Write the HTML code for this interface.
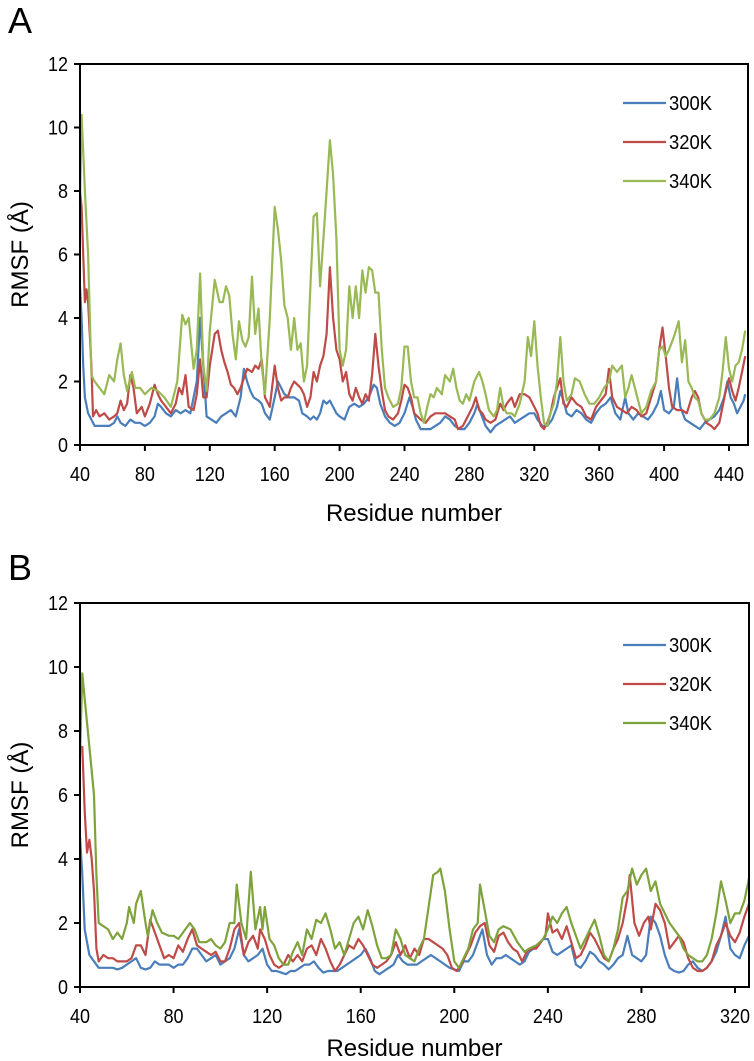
<!DOCTYPE html>
<html><head><meta charset="utf-8"><style>
body{margin:0;background:#fff;}
svg{display:block;}
.tk{font-family:"Liberation Sans Narrow","Liberation Sans",sans-serif;font-size:20px;fill:#000;}
.tt{font-family:"Liberation Sans",sans-serif;font-size:24px;fill:#000;}
</style></head><body>
<svg id="fig" width="754" height="1061" viewBox="0 0 754 1061"></svg>
<script>
const seriesNames=["300K","320K","340K"];
const yTicks=[0,2,4,6,8,10,12];
const xTicksA=[40,80,120,160,200,240,280,320,360,400,440];
const xTicksB=[40,80,120,160,200,240,280,320];

const aBlueX=[40,41,42,43,45,47,49,52,55,58,61,63,65,68,71,74,77,80,83,86,88,90,93,96,99,102,105,108,110,112,114,116,118,121,124,127,130,133,136,139,141,143,145,147,150,152,154,157,160,162,164,166,169,172,175,177,180,182,184,186,188,190,192,194,196,198,200,203,206,209,212,215,218,221,223,225,228,231,234,237,240,243,245,247,250,253,256,259,262,265,268,271,274,277,280,283,285,287,290,293,296,299,302,305,308,311,314,317,320,322,325,328,331,334,336,338,340,343,346,349,352,355,358,361,364,367,370,373,376,378,381,384,387,390,393,396,398,400,403,406,408,410,413,416,419,422,425,428,431,434,437,439,441,443,445,447,449,450];
const aBlueY=[5.0,4.0,2.5,1.5,1.0,0.8,0.6,0.6,0.6,0.6,0.7,0.9,0.7,0.6,0.8,0.7,0.7,0.6,0.7,0.9,1.3,1.2,1.0,0.9,1.1,1.0,1.1,1.0,1.5,2.0,4.0,2.5,0.9,0.8,0.7,0.9,1.0,1.1,0.9,1.5,2.4,2.0,1.7,1.5,1.4,1.3,1.0,0.8,1.5,2.0,1.8,1.6,1.5,1.5,1.4,1.0,0.9,0.8,0.9,0.8,1.0,1.4,1.3,1.4,1.2,1.0,0.9,0.8,1.2,1.3,1.2,1.3,1.5,1.9,1.8,1.3,0.9,0.7,0.6,0.7,1.0,1.5,1.2,0.8,0.5,0.5,0.5,0.6,0.7,0.9,0.8,0.6,0.5,0.5,0.7,1.0,1.3,1.0,0.6,0.4,0.6,0.7,0.8,0.9,0.7,0.8,0.9,1.0,1.0,0.8,0.6,0.6,0.8,1.2,1.7,1.4,1.0,0.9,1.1,1.0,0.8,0.7,1.0,1.2,1.3,1.5,1.0,0.8,1.5,1.0,0.8,1.0,0.9,0.8,1.0,1.3,1.7,1.1,1.0,1.2,2.1,1.2,0.8,0.7,0.6,0.5,0.7,0.8,0.9,1.1,1.5,2.0,1.5,1.3,1.0,1.2,1.4,1.6];

const aRedX=[40,41,42,43,44,45,47,48,50,52,55,58,61,63,65,67,69,71,73,75,78,80,83,86,88,90,93,96,99,101,103,105,107,110,112,114,116,118,120,123,125,127,129,131,133,135,137,139,141,143,146,148,150,152,154,157,160,162,164,166,168,170,172,174,176,178,180,182,184,186,188,190,192,194,196,198,200,202,204,206,208,210,212,214,216,218,220,222,224,226,228,230,233,236,238,240,242,244,246,248,250,253,256,259,262,265,268,271,273,276,279,282,284,286,288,290,293,296,299,301,303,306,308,311,314,317,320,322,324,326,328,330,332,334,336,338,340,343,346,349,352,355,358,361,364,366,368,371,374,377,380,383,386,389,392,395,397,399,401,403,405,408,411,414,417,419,421,423,426,429,431,434,436,438,440,442,444,446,448,450];
const aRedY=[8.0,7.5,6.0,4.5,4.9,4.5,2.5,0.9,1.1,0.9,1.0,0.8,0.9,1.0,1.4,1.1,1.3,2.2,1.8,1.0,1.2,0.9,1.3,1.9,1.6,1.4,1.2,1.0,1.3,1.8,1.6,2.2,1.2,1.1,1.6,2.7,1.5,1.5,2.5,3.5,3.6,3.0,2.6,2.3,1.9,1.8,1.6,1.8,2.1,2.4,2.3,2.5,2.4,2.7,1.5,1.2,2.5,1.8,1.4,1.5,1.5,1.8,2.0,1.9,1.8,1.6,1.2,1.5,2.3,2.0,2.5,2.8,3.5,5.6,4.0,3.0,2.7,2.0,2.3,1.6,1.4,1.8,1.5,1.3,1.6,1.4,2.2,3.5,2.5,1.7,1.1,0.9,0.8,1.0,1.4,1.9,1.8,1.5,1.0,0.9,0.8,0.7,0.9,1.0,1.0,1.0,0.9,0.8,0.5,0.6,0.9,1.2,1.5,1.1,1.0,0.8,0.7,0.8,1.3,1.1,1.3,1.5,1.2,1.6,1.6,1.5,1.2,1.0,0.6,0.5,0.7,1.0,1.5,1.8,2.1,1.3,1.2,1.5,1.3,1.2,0.9,0.8,1.2,1.4,1.6,2.4,1.5,1.2,1.1,1.0,1.2,1.1,0.9,1.0,1.5,2.0,3.0,3.7,2.8,1.8,1.2,1.1,1.1,1.0,1.5,1.7,1.5,1.0,0.7,0.6,0.5,0.7,1.2,1.7,2.1,1.7,1.4,1.8,2.3,2.8];

const aGreenX=[40,41,43,45,47,49,52,55,58,61,63,65,67,69,72,74,77,80,84,88,92,96,100,103,105,107,110,112,114,116,118,120,123,126,128,130,132,134,136,138,140,142,144,146,148,150,152,154,157,160,162,164,166,168,170,172,174,176,178,180,182,184,186,188,190,192,194,196,198,200,202,204,206,208,210,212,214,216,218,220,222,224,226,228,230,233,236,238,240,242,244,246,248,250,252,254,256,258,260,263,265,268,270,272,274,276,278,280,283,286,288,290,292,295,297,299,301,303,306,308,311,314,316,318,320,322,324,326,328,330,332,334,336,338,340,343,345,348,351,354,357,360,363,366,368,371,374,376,378,380,383,386,389,392,395,397,399,401,403,406,409,411,413,415,417,419,421,423,425,428,431,434,436,438,440,442,444,446,448,450];
const aGreenY=[7.6,10.4,8.0,6.0,2.2,2.0,1.8,1.6,2.2,2.0,2.7,3.2,2.2,1.7,2.3,1.8,1.8,1.6,1.8,1.7,1.5,1.2,2.0,4.1,3.8,4.0,2.4,3.0,5.4,2.5,1.7,3.6,5.2,4.5,4.5,5.0,4.7,3.5,2.7,3.9,3.3,3.1,3.4,5.3,3.5,4.3,2.5,1.6,4.0,7.5,6.8,5.8,4.4,4.0,3.0,4.0,3.0,3.2,2.0,2.5,5.0,7.2,7.3,5.0,6.5,8.0,9.6,8.5,6.5,3.0,2.5,3.0,5.0,4.0,5.0,4.0,5.5,4.8,5.6,5.5,4.8,4.8,3.0,1.8,1.5,1.2,1.3,1.8,3.1,3.1,2.0,1.5,1.5,1.0,0.7,1.2,1.6,1.5,1.8,1.6,2.2,2.0,2.4,1.8,1.4,1.3,1.6,1.4,2.0,2.3,2.0,1.6,1.1,0.9,1.1,1.8,1.2,1.0,1.0,0.9,1.3,2.0,3.4,2.8,3.9,2.5,1.5,0.7,0.6,1.0,1.3,2.0,3.4,2.0,1.4,1.6,2.1,2.0,1.6,1.3,1.3,1.5,1.8,2.0,2.5,2.3,2.5,1.5,1.8,2.2,1.6,1.0,1.2,1.7,2.0,3.0,3.1,2.8,3.0,3.4,3.9,2.6,3.3,2.0,1.8,1.5,1.4,1.0,0.8,0.8,1.0,1.5,2.3,3.4,2.4,2.0,2.5,2.6,3.0,3.6];

const bBlueX=[40,41,42,44,46,48,50,52,54,56,58,60,62,64,66,68,70,72,74,76,78,80,82,84,86,88,90,92,94,96,98,100,102,104,106,108,110,112,114,116,118,120,122,124,126,128,130,132,134,136,138,140,142,144,146,148,150,152,154,156,158,160,162,164,166,168,170,172,174,176,178,180,182,184,186,188,190,192,194,196,198,200,202,204,206,208,210,212,214,216,218,220,222,224,226,228,230,232,234,236,238,240,242,244,246,248,250,252,254,256,258,260,262,264,266,268,270,272,274,276,278,280,282,284,286,288,290,292,294,296,298,300,302,304,306,308,310,312,314,316,318,320,322,324,326];
const bBlueY=[4.7,3.5,1.8,1.0,0.8,0.6,0.6,0.6,0.6,0.55,0.6,0.7,0.8,0.9,0.6,0.55,0.6,0.8,0.7,0.7,0.7,0.6,0.7,0.7,0.9,1.2,1.2,1.0,0.8,0.9,1.0,0.7,0.8,0.9,1.2,1.8,1.0,0.8,0.9,1.0,1.2,0.7,0.5,0.5,0.45,0.4,0.5,0.5,0.6,0.7,0.7,0.8,0.6,0.45,0.5,0.5,0.5,0.6,0.7,0.8,0.9,1.0,1.2,0.9,0.5,0.4,0.5,0.6,0.7,1.0,0.8,0.7,0.7,0.7,0.8,0.9,1.0,0.9,0.8,0.7,0.6,0.55,0.5,0.8,0.8,1.0,1.4,1.8,1.0,0.7,0.9,0.9,1.0,0.9,0.8,0.7,0.8,1.1,1.2,1.3,1.5,1.5,1.1,1.0,1.1,1.2,1.3,0.7,0.6,0.8,1.1,1.0,0.8,0.7,0.55,0.7,0.9,1.0,1.6,1.0,0.9,0.8,1.0,2.2,2.0,1.6,1.0,0.6,0.5,0.45,0.5,0.7,0.8,0.6,0.5,0.6,0.8,1.1,1.6,2.2,1.2,1.0,0.9,1.3,1.6];

const bRedX=[40,41,42,43,44,45,46,47,48,50,52,54,56,58,60,62,64,66,68,70,72,74,76,78,80,82,84,86,88,90,92,94,96,98,100,102,104,106,108,110,112,114,116,117,119,121,123,125,127,129,131,133,135,137,139,141,143,145,147,149,151,153,155,157,159,161,163,165,167,169,171,173,175,177,179,181,183,185,187,189,191,193,195,197,199,201,203,205,207,209,211,213,215,217,219,221,223,225,227,229,231,233,235,237,239,240,242,244,246,248,250,252,254,256,258,260,262,264,266,268,270,272,274,275,277,279,281,283,284,286,288,290,292,294,296,298,300,302,304,306,308,310,312,314,316,318,320,322,324,326];
const bRedY=[7.5,7.5,5.5,4.2,4.6,4.0,3.0,1.2,0.8,1.0,0.9,0.9,0.8,0.8,0.8,0.9,1.3,1.3,1.0,2.1,1.7,1.3,0.9,1.0,0.9,1.3,1.1,1.5,1.8,1.3,1.2,1.1,1.0,1.1,0.8,0.8,1.2,1.8,2.0,1.0,1.4,1.6,1.2,1.8,1.5,1.0,0.7,0.6,0.7,1.0,0.8,1.0,0.8,1.2,1.3,1.0,1.5,1.2,0.8,0.5,0.7,1.0,1.3,1.2,1.5,1.3,1.0,0.7,0.6,0.7,0.8,1.0,1.4,1.0,1.3,0.9,1.2,1.0,1.5,1.5,1.4,1.3,1.2,1.0,0.6,0.5,0.7,1.0,1.3,1.7,1.9,2.0,1.3,1.1,1.6,1.7,1.4,1.2,1.1,0.8,1.1,1.2,1.2,1.4,1.6,2.3,1.7,1.8,1.5,1.9,1.4,0.9,1.0,1.3,1.7,1.5,1.2,0.9,0.8,1.2,1.5,2.0,2.8,3.5,2.0,1.6,2.0,2.2,1.8,2.6,2.4,2.0,1.2,1.4,1.6,1.4,0.9,0.6,0.5,0.5,0.6,0.8,1.3,1.6,2.0,1.6,1.4,1.7,2.2,2.6];

const bGreenX=[40,41,42,44,46,47,48,50,52,54,56,58,60,61,63,64,66,68,69,71,73,75,78,80,82,85,87,89,91,94,96,98,100,102,104,106,107,109,111,113,115,117,118,119,121,123,125,127,129,131,133,135,137,139,141,143,145,147,149,151,153,155,157,159,161,163,165,167,169,171,173,175,177,179,181,183,185,187,189,191,193,194,196,198,200,202,204,206,208,210,211,213,215,217,219,221,224,227,230,232,235,238,240,242,244,246,248,250,252,254,256,258,260,262,264,266,268,270,272,274,276,278,280,282,284,286,288,290,292,294,296,298,300,302,304,306,308,310,312,314,316,318,320,322,324,326];
const bGreenY=[7.2,9.8,9.0,7.5,6.0,3.5,2.0,1.9,1.8,1.5,1.7,1.5,2.0,2.5,2.0,2.6,3.0,2.0,1.6,2.4,2.0,1.7,1.6,1.6,1.5,1.8,2.0,1.8,1.4,1.4,1.5,1.3,1.2,1.4,2.0,2.0,3.2,2.0,1.5,3.6,1.8,2.5,1.8,2.5,1.5,1.3,0.9,0.7,0.7,1.1,1.4,1.0,1.8,1.5,2.1,2.0,2.3,1.8,1.2,1.4,1.0,1.5,2.0,2.2,1.8,2.4,1.9,1.3,0.9,0.9,1.0,1.8,1.5,1.0,0.9,0.8,1.2,1.5,2.5,3.5,3.6,3.7,3.0,1.8,0.8,0.6,0.9,1.2,1.8,2.0,3.2,2.4,1.6,1.4,1.8,1.9,1.8,1.4,1.1,1.2,1.3,1.5,1.8,2.2,2.0,2.3,2.5,2.0,1.6,1.2,1.5,1.8,2.1,1.6,1.0,0.8,1.2,1.8,2.8,3.0,3.7,3.2,3.5,3.7,3.0,3.3,2.6,2.3,2.0,1.8,1.6,1.2,1.0,0.9,0.8,0.8,1.0,1.5,2.3,3.3,2.7,2.0,2.3,2.3,2.7,3.4];

const NS="http://www.w3.org/2000/svg";
const svg=document.getElementById('fig');
function mk(tag,attrs,parent){const e=document.createElementNS(NS,tag);for(const k in attrs)e.setAttribute(k,attrs[k]);(parent||svg).appendChild(e);return e;}

function panel(cfg){
  const g=mk('g',{});
  
  
  const xs=v=>cfg.x0+(v-cfg.xmin)*(cfg.x1px-cfg.x0)/(cfg.xTickMax-cfg.xmin);
  const ys=v=>cfg.y0-(v-0)*(cfg.y0-cfg.ytop)/12;
  const right=cfg.right;
  const lbl=mk('text',{x:8,y:cfg.letterY,'font-family':'Liberation Sans, sans-serif','font-size':'36',fill:'#000'},g);
  lbl.textContent=cfg.letter;
  
  
  cfg.series.forEach((s,i)=>{
    let d='';
    s.x.forEach((xv,j)=>{d+=(j?'L':'M')+xs(xv).toFixed(1)+','+ys(s.y[j]).toFixed(1);});
    const p=mk('path',{d:d,fill:'none',stroke:s.color,'stroke-width':'2.2','stroke-linejoin':'round'},g);
    
    
  });
  const fr=mk('rect',{x:cfg.x0,y:cfg.ytop,width:right-cfg.x0,height:cfg.y0-cfg.ytop,fill:'none',stroke:'#000','stroke-width':'2'},g);
  
  
  yTicks.forEach(t=>{
    const y=ys(t);
    const l=mk('line',{x1:cfg.x0-6,x2:cfg.x0,y1:y,y2:y,stroke:'#000','stroke-width':'2'},g);
    
    
    const tx=mk('text',{x:cfg.x0-12,y:y+7,'text-anchor':'end',class:'tk',textLength:(String(t).length*10),lengthAdjust:'spacingAndGlyphs'},g);
    tx.textContent=t;
    
    
  });
  cfg.xTicks.forEach(t=>{
    const x=xs(t);
    const l=mk('line',{x1:x,x2:x,y1:cfg.y0,y2:cfg.y0+6,stroke:'#000','stroke-width':'2'},g);
    
    
    const tx=mk('text',{x:x,y:cfg.y0+36,'text-anchor':'middle',class:'tk',textLength:(String(t).length*10),lengthAdjust:'spacingAndGlyphs'},g);
    tx.textContent=t;
    
    
  });
  const xt=mk('text',{x:(cfg.x0+right)/2,y:cfg.xTitleY,'text-anchor':'middle',class:'tt'},g);
  xt.textContent='Residue number';
  
  
  const cy=(cfg.ytop+cfg.y0)/2;
  const yt=mk('text',{x:0,y:0,'text-anchor':'middle',class:'tt',transform:'translate(28,'+cy+') rotate(-90)'},g);
  yt.textContent='RMSF (Å)';
  
  
  cfg.series.forEach((s,i)=>{
    const ly=cfg.legY+i*39;
    const lg=mk('g',{},g);
    
    
    mk('line',{x1:623,x2:666,y1:ly,y2:ly,stroke:s.color,'stroke-width':'2.2'},lg);
    const t=mk('text',{x:669,y:ly+7,class:'tk',textLength:43,lengthAdjust:'spacingAndGlyphs'},lg);
    t.textContent=seriesNames[i];
  });
}
panel({name:'panel-a',letter:'A',letterY:33,x0:80,ytop:64,y0:445,right:748,xmin:40,xTickMax:440,x1px:729,xTicks:xTicksA,xTitleY:521,legY:103,
  series:[{x:aBlueX,y:aBlueY,color:'#4a7ebb'},{x:aRedX,y:aRedY,color:'#be4b48'},{x:aGreenX,y:aGreenY,color:'#98b954'}]});
panel({name:'panel-b',letter:'B',letterY:580,x0:80,ytop:603,y0:987,right:749,xmin:40,xTickMax:320,x1px:735,xTicks:xTicksB,xTitleY:1056,legY:645,
  series:[{x:bBlueX,y:bBlueY,color:'#4a7ebb'},{x:bRedX,y:bRedY,color:'#be4b48'},{x:bGreenX,y:bGreenY,color:'#7ea33c'}]});
</script>
</body></html>
